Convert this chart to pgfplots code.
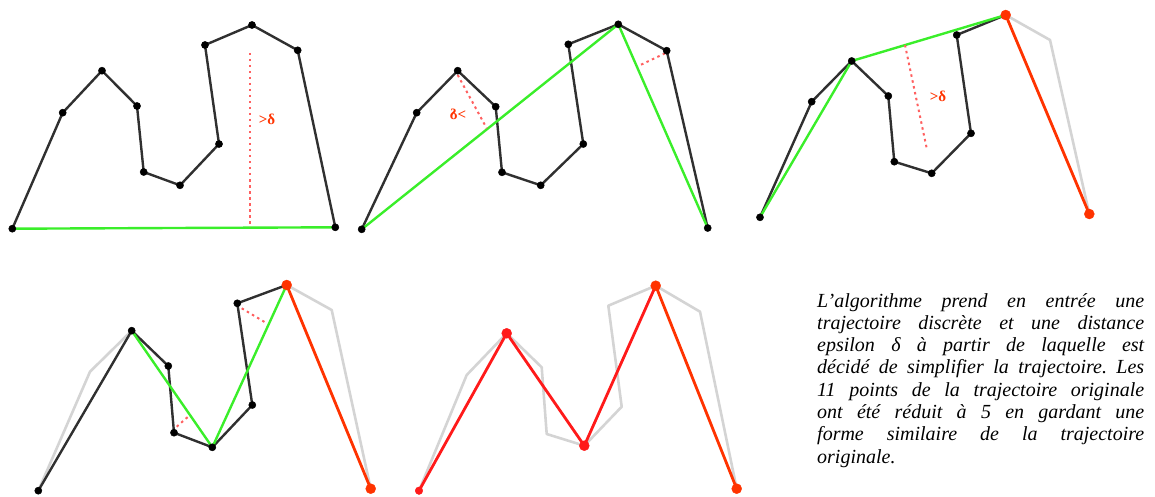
\documentclass[border=0pt]{standalone}
\usepackage{fontspec}
\setmainfont{Liberation Serif}
\usepackage{graphicx}
\usepackage{pgfplots}
\pgfplotsset{compat=1.18}
\definecolor{blk}{HTML}{303030}
\definecolor{grn}{HTML}{3AEE2A}
\definecolor{org}{HTML}{FF3300}
\definecolor{rd}{HTML}{FF1A1A}
\definecolor{gry}{HTML}{D4D4D4}
\definecolor{dot}{HTML}{FF6060}
\frenchspacing
\newcommand{\jline}[1]{\makebox[327pt][s]{\spaceskip=0pt\xspaceskip=0pt #1}}
\begin{document}
\begin{tikzpicture}
\begin{axis}[
  width=1155pt, height=497pt, scale only axis,
  xmin=0, xmax=1155, ymin=0, ymax=497, y dir=reverse,
  axis lines=none, clip=false,
  every axis plot/.append style={line join=round, line cap=round},
]
\path[use as bounding box, draw=none] (rel axis cs:0,0) rectangle (rel axis cs:1,1);
% ---------- Panel 1 ----------
\addplot[blk, line width=2.4pt] coordinates {(12.3,228.7)(62.7,112.7)(102,70.7)(137,106)(143.7,172)(180,185.3)(219,144)(205,45)(252,25)(297.7,50.3)(335.3,227.3)};
\addplot[grn, line width=2.4pt] coordinates {(12.3,228.7)(335.3,227.3)};
\addplot[dot, line width=2pt, line cap=butt, dash pattern=on 2.5pt off 3.5pt] coordinates {(250,53)(250,227)};
\addplot[only marks, mark=*, mark size=3.6pt, black] coordinates {(12.3,228.7)(62.7,112.7)(102,70.7)(137,106)(143.7,172)(180,185.3)(219,144)(205,45)(252,25)(297.7,50.3)(335.3,227.3)};
\node[text=org, font=\fontsize{15}{15}\selectfont\bfseries] at (axis cs:267,119) {>δ};
% ---------- Panel 2 ----------
\addplot[blk, line width=2.4pt] coordinates {(361.7,229.3)(416.7,112.7)(457.7,70.7)(495.7,106.7)(502,172.3)(540.7,185.3)(583.3,144)(568.3,44.3)(618.3,24.3)(666.7,50.7)(707.7,228)};
\addplot[grn, line width=2.4pt] coordinates {(361.7,229.3)(618.3,24.3)(707.7,228)};
\addplot[dot, line width=2pt, line cap=butt, dash pattern=on 2.5pt off 3.5pt] coordinates {(457.7,75)(486.7,128.3)};
\addplot[dot, line width=2pt, line cap=butt, dash pattern=on 2.5pt off 3.5pt] coordinates {(665,53.3)(638.3,66)};
\addplot[only marks, mark=*, mark size=3.6pt, black] coordinates {(361.7,229.3)(416.7,112.7)(457.7,70.7)(495.7,106.7)(502,172.3)(540.7,185.3)(583.3,144)(568.3,44.3)(618.3,24.3)(666.7,50.7)(707.7,228)};
\node[text=org, font=\fontsize{15}{15}\selectfont\bfseries] at (axis cs:458,114) {\reflectbox{>δ}};
% ---------- Panel 3 ----------
\addplot[gry, line width=2.6pt] coordinates {(1005.7,15)(1050,40)(1089.3,214)};
\addplot[blk, line width=2.4pt] coordinates {(760,217.3)(811.7,101.7)(851.7,61)(888.3,96)(894.3,161.7)(931.7,173.3)(971,133.3)(956.7,35)(1005.7,15)};
\addplot[grn, line width=2.4pt] coordinates {(760,217.3)(851.7,61)(1005.7,15)};
\addplot[org, line width=2.8pt] coordinates {(1005.7,15)(1089.3,214)};
\addplot[dot, line width=2pt, line cap=butt, dash pattern=on 2.5pt off 3.5pt] coordinates {(905,45)(926.7,148.3)};
\addplot[only marks, mark=*, mark size=3.6pt, black] coordinates {(760,217.3)(811.7,101.7)(851.7,61)(888.3,96)(894.3,161.7)(931.7,173.3)(971,133.3)(956.7,35)};
\addplot[only marks, mark=*, mark size=5pt, org] coordinates {(1005.7,15)(1089.3,214)};
\node[text=org, font=\fontsize{15}{15}\selectfont\bfseries] at (axis cs:938,96) {>δ};
% ---------- Panel 4 ----------
\addplot[gry, line width=2.6pt] coordinates {(38.3,490.7)(90,371.7)(131.7,330.7)};
\addplot[gry, line width=2.6pt] coordinates {(286.7,285)(331.7,310)(370.7,488.7)};
\addplot[blk, line width=2.4pt] coordinates {(38.3,490.7)(131.7,330.7)(168.3,366)(174,432.7)(212.3,447.3)(252.3,405)(237.3,303.3)(286.7,285)};
\addplot[grn, line width=2.4pt] coordinates {(131.7,330.7)(212.3,447.3)(286.7,285)};
\addplot[org, line width=2.8pt] coordinates {(286.7,285)(370.7,488.7)};
\addplot[dot, line width=2pt, line cap=butt, dash pattern=on 2.5pt off 3.5pt] coordinates {(176.7,426.7)(190,415)};
\addplot[dot, line width=2pt, line cap=butt, dash pattern=on 2.5pt off 3.5pt] coordinates {(241.7,308.3)(266.7,323.3)};
\addplot[only marks, mark=*, mark size=3.6pt, black] coordinates {(38.3,490.7)(131.7,330.7)(168.3,366)(174,432.7)(212.3,447.3)(252.3,405)(237.3,303.3)};
\addplot[only marks, mark=*, mark size=5pt, org] coordinates {(286.7,285)(370.7,488.7)};
% ---------- Panel 5 ----------
\addplot[gry, line width=2.6pt] coordinates {(419,490.7)(466.7,375)(506.7,333.3)(541.7,367.3)(546.7,434)(584.3,445.7)(621.7,406.7)(608.3,305.7)(655.7,285.7)(700,311.7)(736.7,488.7)};
\addplot[rd, line width=2.8pt] coordinates {(419,490.7)(506.7,333.3)(584.3,445.7)(655.7,285.7)};
\addplot[org, line width=2.8pt] coordinates {(655.7,285.7)(736.7,488.7)};
\addplot[only marks, mark=*, mark size=3.8pt, rd] coordinates {(419,490.7)};
\addplot[only marks, mark=*, mark size=5pt, rd] coordinates {(506.7,333.3)(584.3,445.7)};
\addplot[only marks, mark=*, mark size=5pt, org] coordinates {(655.7,285.7)(736.7,488.7)};
% ---------- Text ----------
\node[anchor=base west, inner sep=0pt, text width=327pt,
      font=\fontsize{20}{22.3}\selectfont\itshape] at (axis cs:817,307) {%
\jline{L’algorithme prend en entrée une}\\
\jline{trajectoire discrète et une distance}\\
\jline{epsilon δ à partir de laquelle est}\\
\jline{décidé de simplifier la trajectoire. Les}\\
\jline{11 points de la trajectoire originale}\\
\jline{ont été réduit à 5 en gardant une}\\
\jline{forme similaire de la trajectoire}\\
originale.};
\end{axis}
\end{tikzpicture}
\end{document}
